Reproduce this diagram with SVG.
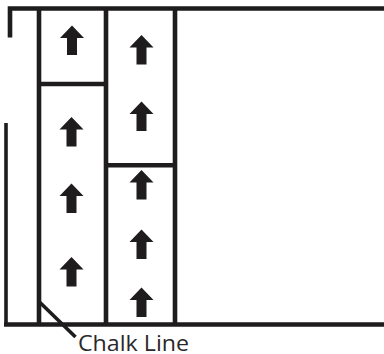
<svg xmlns="http://www.w3.org/2000/svg" xmlns:xlink="http://www.w3.org/1999/xlink" width="384" height="354" viewBox="0 0 384 354">
<style>
.wall{stroke:#1e1c1d;stroke-width:4.6;fill:none;stroke-linecap:butt}
.thin{stroke:#1e1c1d;stroke-width:3.6;fill:none}
.arr{fill:#1e1c1d}
.lbl{font-family:"Open Sans","Noto Sans",sans-serif;font-size:21px;fill:#2a2829}
</style>
<defs>
<path id="arrow" d="M0,0 L12,12.5 L5,12.5 L5,29.5 L-5,29.5 L-5,12.5 L-12,12.5 Z"/>
</defs>
<rect width="384" height="354" fill="#ffffff"/>
<g id="room">
<path class="wall" d="M10,37.5 L10,8.5 L384,8.5"/>
<line class="wall" x1="4" y1="324.5" x2="384" y2="324.5"/>
<line class="thin" x1="6" y1="123" x2="6" y2="324"/>
</g>
<g id="column1">
<line class="wall" x1="39" y1="8.5" x2="39" y2="324.5"/>
<line class="wall" x1="39" y1="84" x2="106" y2="84"/>
<g class="arr">
<use xlink:href="#arrow" x="72" y="25.5"/>
<use xlink:href="#arrow" x="71.5" y="117"/>
<use xlink:href="#arrow" x="71.5" y="183.5"/>
<use xlink:href="#arrow" x="71.5" y="257"/>
</g>
</g>
<g id="column2">
<line class="wall" x1="106" y1="8.5" x2="106" y2="324.5"/>
<line class="wall" x1="106" y1="165.3" x2="175" y2="165.3"/>
<line class="wall" x1="175" y1="8.5" x2="175" y2="324.5"/>
<g class="arr">
<use xlink:href="#arrow" x="141.5" y="35"/>
<use xlink:href="#arrow" x="141.5" y="101.5"/>
<use xlink:href="#arrow" x="141.5" y="170"/>
<use xlink:href="#arrow" x="141.5" y="229.5"/>
<use xlink:href="#arrow" x="141.5" y="287.5"/>
</g>
</g>
<g id="connectors">
<line class="thin" x1="40" y1="302.5" x2="75.5" y2="337"/>
</g>
<g id="label">
<text class="lbl" x="78" y="350.5" textLength="111" lengthAdjust="spacingAndGlyphs">Chalk Line</text>
</g>
</svg>
